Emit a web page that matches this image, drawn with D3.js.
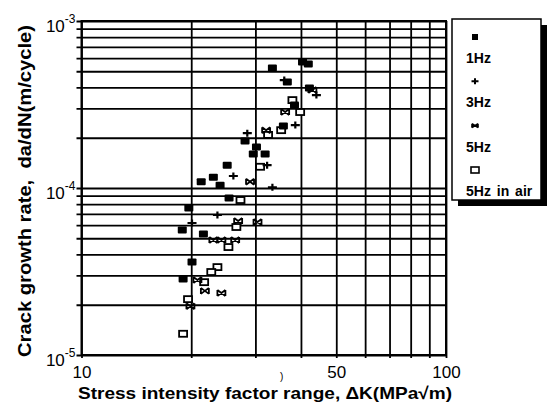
<!DOCTYPE html>
<html>
<head>
<meta charset="utf-8">
<script src="https://cdn.jsdelivr.net/npm/d3@7"></script>
<style>
  body { margin: 0; background: #fff; }
  text { font-family: "Liberation Sans", Arial, sans-serif; fill: #000; }
</style>
</head>
<body>
<script>
// values: [stress intensity range dK (MPa sqrt m), da/dN (m/cycle)]
var hz1 = [
  [33.4, 5.23e-4], [40.4, 5.68e-4], [41.9, 5.53e-4], [36.7, 4.31e-4], [42.2, 3.97e-4],
  [38.4, 3.14e-4], [35.8, 2.35e-4], [28.1, 1.91e-4], [30.2, 1.76e-4], [29.6, 1.60e-4],
  [31.9, 1.60e-4], [25.1, 1.37e-4], [23.0, 1.16e-4], [21.3, 1.09e-4], [24.0, 1.04e-4],
  [25.4, 8.71e-5], [19.7, 7.59e-5], [18.9, 5.60e-5], [21.6, 5.30e-5], [20.1, 3.60e-5],
  [19.0, 2.85e-5]
];
var hz3 = [
  [26.1, 1.18e-4], [32.3, 1.37e-4], [28.5, 2.13e-4], [38.6, 2.38e-4], [33.4, 1.01e-4],
  [20.1, 6.17e-5], [23.6, 6.89e-5], [44.1, 3.60e-4], [36.0, 4.43e-4]
];
var hz5 = [
  [36.2, 2.85e-4], [43.0, 3.86e-4], [32.1, 2.22e-4], [29.0, 1.09e-4], [26.9, 6.34e-5],
  [30.4, 6.26e-5], [23.0, 4.88e-5], [24.2, 4.88e-5], [26.4, 4.88e-5], [20.8, 2.81e-5],
  [21.8, 2.42e-5], [24.2, 2.35e-5], [19.9, 1.96e-5]
];
var hzAir = [
  [37.9, 3.36e-4], [39.8, 2.85e-4], [35.3, 2.22e-4], [32.5, 2.08e-4], [30.9, 1.34e-4],
  [27.3, 8.47e-5], [26.6, 5.84e-5], [25.3, 4.43e-5], [23.6, 3.36e-5], [22.7, 3.14e-5],
  [21.7, 2.73e-5], [19.6, 2.16e-5], [19.0, 1.34e-5]
];

var legendLabels = ["1Hz", "3Hz", "5Hz", "5Hz in air"];
var xTickLabels = [10, 50, 100];
var yTickLabels = [1e-3, 1e-4, 1e-5];
var yTickExp = ["-3", "-4", "-5"];

var W = 552, H = 404;
var plot = { left: 81.5, right: 446, top: 21, bottom: 355 };

var x = d3.scaleLog().domain([10, 100]).range([plot.left, plot.right]);
var y = d3.scaleLog().domain([1e-5, 1e-3]).range([plot.bottom, plot.top]);

var svg = d3.select("body").append("svg")
    .attr("width", W)
    .attr("height", H);

// grid: horizontal lines poke out 5px left of the frame
var gridY = y.ticks();
var gridX = x.ticks();

svg.append("g")
    .attr("transform", "translate(" + (plot.left - 5) + ",0)")
    .call(d3.axisRight(y).tickValues(gridY).tickSize(plot.right - plot.left + 5).tickFormat(""))
    .call(function(g) { g.select(".domain").remove(); })
    .selectAll("line").attr("stroke", "#000").attr("stroke-width", 1.8);

svg.append("g")
    .attr("transform", "translate(0," + (plot.bottom + 3) + ")")
    .call(d3.axisTop(x).tickValues(gridX).tickSize(plot.bottom + 3 - plot.top).tickFormat(""))
    .call(function(g) { g.select(".domain").remove(); })
    .selectAll("line").attr("stroke", "#000").attr("stroke-width", 1.8);

svg.append("rect")
    .attr("x", plot.left).attr("y", plot.top)
    .attr("width", plot.right - plot.left).attr("height", plot.bottom - plot.top)
    .attr("fill", "none").attr("stroke", "#000").attr("stroke-width", 2);

// x tick labels
svg.append("g")
    .attr("transform", "translate(0," + plot.bottom + ")")
    .call(d3.axisBottom(x).tickValues(xTickLabels).tickSize(0).tickPadding(11).tickFormat(d3.format("d")))
    .call(function(g) { g.select(".domain").remove(); })
    .selectAll("text")
    .attr("font-family", "Liberation Sans, Arial, sans-serif")
    .attr("font-size", 17)
    .attr("fill", "#000");

// y tick labels, 10 with a raised exponent
var yl = svg.append("g").selectAll("text")
    .data(yTickLabels)
    .join("text")
    .attr("x", plot.left - 6)
    .attr("y", function(d) { return y(d) + 11; })
    .attr("text-anchor", "end")
    .attr("font-size", 17);
yl.append("tspan").text("10");
yl.append("tspan")
    .attr("dy", -9)
    .attr("font-size", 12)
    .text(function(d, i) { return yTickExp[i]; });

// axis titles
svg.append("text")
    .attr("x", 78).attr("y", 399)
    .attr("font-size", 17)
    .attr("font-weight", "bold")
    .attr("textLength", 374)
    .attr("lengthAdjust", "spacingAndGlyphs")
    .text("Stress intensity factor range, \u0394K(MPa\u221Am)");

svg.append("text")
    .attr("transform", "translate(31,357) rotate(-90)")
    .attr("font-size", 19)
    .attr("font-weight", "bold")
    .attr("textLength", 332)
    .attr("lengthAdjust", "spacingAndGlyphs")
    .style("white-space", "pre")
    .text("Crack growth rate,  da/dN(m/cycle)");

// stray mark under the axis in the scan
svg.append("text")
    .attr("x", 280).attr("y", 380)
    .attr("font-size", 10)
    .text(")");

// markers
var plusPath = "M-4.5,0H4.5M0,-3.5V3.5";
var starPath = "M-4,-3L4,3M-4,3L4,-3M-4,-3V3M4,-3V3";

function drawFilled(g, data, w, h) {
  g.selectAll("rect.f").data(data).join("rect")
      .attr("class", "f")
      .attr("x", function(d) { return x(d[0]) - w / 2; })
      .attr("y", function(d) { return y(d[1]) - h / 2; })
      .attr("width", w).attr("height", h)
      .attr("rx", 1)
      .attr("fill", "#000");
}
function drawOpen(g, data, w, h) {
  g.selectAll("rect.o").data(data).join("rect")
      .attr("class", "o")
      .attr("x", function(d) { return x(d[0]) - w / 2; })
      .attr("y", function(d) { return y(d[1]) - h / 2; })
      .attr("width", w).attr("height", h)
      .attr("fill", "#fff").attr("stroke", "#000").attr("stroke-width", 1.8);
}
function drawPath(g, data, p, sw, cls) {
  g.selectAll("path." + cls).data(data).join("path")
      .attr("class", cls)
      .attr("transform", function(d) { return "translate(" + x(d[0]) + "," + y(d[1]) + ")"; })
      .attr("d", p)
      .attr("fill", "none").attr("stroke", "#000").attr("stroke-width", sw);
}

var marks = svg.append("g");
drawOpen(marks.append("g"), hzAir, 8, 6);
drawFilled(marks.append("g"), hz1, 9, 7);
drawPath(marks.append("g"), hz3, plusPath, 2.2, "p");
drawPath(marks.append("g"), hz5, starPath, 1.8, "s");

// legend
var lg = svg.append("g");
lg.append("rect")
    .attr("x", 458).attr("y", 25).attr("width", 89).attr("height", 181)
    .attr("fill", "#000");
lg.append("rect")
    .attr("x", 452).attr("y", 19).attr("width", 89).attr("height", 181)
    .attr("fill", "#fff").attr("stroke", "#000").attr("stroke-width", 1.5);

var legendY = d3.scalePoint().domain(legendLabels).range([63, 196]);
var symX = 475;

lg.selectAll("text.lab").data(legendLabels).join("text")
    .attr("class", "lab")
    .attr("x", 466)
    .attr("y", function(d) { return legendY(d); })
    .attr("font-size", 14)
    .attr("font-weight", "bold")
    .style("word-spacing", "2px")
    .text(function(d) { return d; });

var sy = function(i) { return legendY(legendLabels[i]) - 26; };
lg.append("rect").attr("x", symX - 3).attr("y", sy(0) - 3).attr("width", 6).attr("height", 6).attr("fill", "#000");
lg.append("path").attr("transform", "translate(" + symX + "," + sy(1) + ")")
    .attr("d", "M-3.5,0H3.5M0,-3V3").attr("stroke", "#000").attr("stroke-width", 2).attr("fill", "none");
lg.append("path").attr("transform", "translate(" + symX + "," + sy(2) + ")")
    .attr("d", "M-3,-2L3,2M-3,2L3,-2M-3,-2V2M3,-2V2").attr("stroke", "#000").attr("stroke-width", 1.6).attr("fill", "none");
lg.append("rect").attr("x", symX - 4).attr("y", sy(3) - 3).attr("width", 8).attr("height", 6)
    .attr("fill", "#fff").attr("stroke", "#000").attr("stroke-width", 1.6);
</script>
</body>
</html>
